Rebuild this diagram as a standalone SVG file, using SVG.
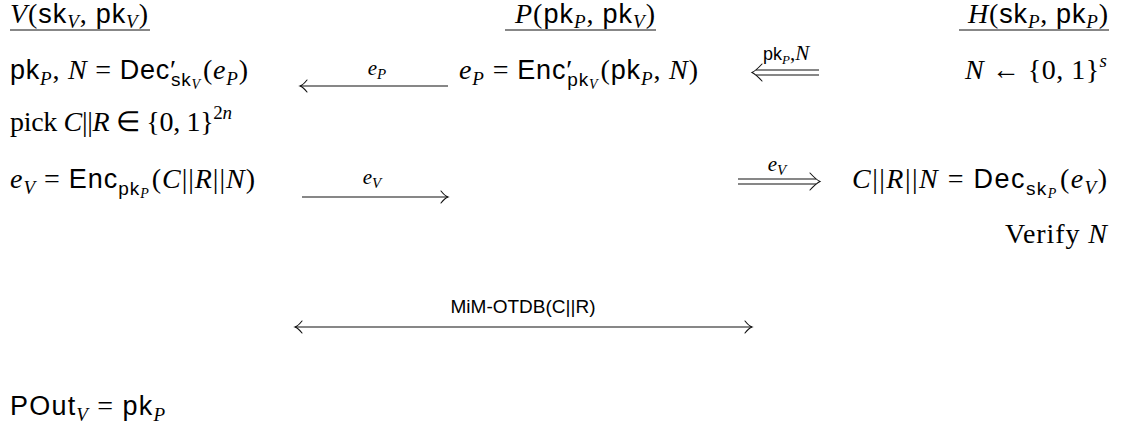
<svg xmlns="http://www.w3.org/2000/svg" width="1124" height="428" viewBox="0 0 1124 428">
<style>
text{font-family:"Liberation Serif",serif;font-size:28px;fill:#000}
.i{font-style:italic}
.s{font-family:"Liberation Sans",sans-serif;font-size:27px}
.sb{font-size:19px}
.ssb{font-size:14px}
.lbl{font-size:21px}
.lsub{font-size:15px}
.lbs{font-family:"Liberation Sans",sans-serif;font-size:18px}
.mim{font-family:"Liberation Sans",sans-serif;font-size:19px}
.ln{stroke:#111;stroke-width:1.1;fill:none}
.hd{stroke:#111;stroke-width:1.1;fill:none;stroke-linecap:round}
</style>
<rect width="1124" height="428" fill="#fff"/>
<g id="party-V">
<text x="10" y="23" textLength="138"><tspan class="i">V</tspan>(<tspan class="s">sk</tspan><tspan class="i sb" dy="5">V</tspan><tspan dy="-5">, </tspan><tspan class="s">pk</tspan><tspan class="i sb" dy="5">V</tspan><tspan dy="-5">)</tspan></text>
<line class="ln" x1="10" y1="30" x2="150" y2="30"/>
</g>
<g id="party-P">
<text x="515" y="23" textLength="140"><tspan class="i">P</tspan>(<tspan class="s">pk</tspan><tspan class="i sb" dy="5">P</tspan><tspan dy="-5">, </tspan><tspan class="s">pk</tspan><tspan class="i sb" dy="5">V</tspan><tspan dy="-5">)</tspan></text>
<line class="ln" x1="505" y1="30" x2="656" y2="30"/>
</g>
<g id="party-H">
<text x="968" y="23" textLength="140"><tspan class="i">H</tspan>(<tspan class="s">sk</tspan><tspan class="i sb" dy="5">P</tspan><tspan dy="-5">, </tspan><tspan class="s">pk</tspan><tspan class="i sb" dy="5">P</tspan><tspan dy="-5">)</tspan></text>
<line class="ln" x1="959" y1="30" x2="1109" y2="30"/>
</g>
<g id="v-dec">
<text x="10" y="79" textLength="238"><tspan class="s">pk</tspan><tspan class="i sb" dy="6">P</tspan><tspan dy="-6">, </tspan><tspan class="i">N</tspan> = <tspan class="s">Dec</tspan><tspan>′</tspan><tspan class="s sb" dx="-6" dy="7">sk</tspan><tspan class="i ssb" dy="3">V</tspan><tspan dy="-10" dx="2">(</tspan><tspan class="i">e</tspan><tspan class="i sb" dy="6">P</tspan><tspan dy="-6">)</tspan></text>
</g>
<g id="p-enc">
<text x="459" y="79" textLength="239"><tspan class="i">e</tspan><tspan class="i sb" dy="6">P</tspan><tspan dy="-6"> = </tspan><tspan class="s">Enc</tspan><tspan>′</tspan><tspan class="s sb" dx="-6" dy="7">pk</tspan><tspan class="i ssb" dy="3">V</tspan><tspan dy="-10" dx="2">(</tspan><tspan class="s">pk</tspan><tspan class="i sb" dy="6">P</tspan><tspan dy="-6">, </tspan><tspan class="i">N</tspan>)</text>
</g>
<g id="h-nonce">
<text x="965" y="79" textLength="142"><tspan class="i">N</tspan> ← {0, 1}<tspan class="i sb" dy="-12">s</tspan></text>
</g>
<g id="v-pick">
<text x="10" y="131" textLength="222">pick <tspan class="i">C</tspan>||<tspan class="i">R</tspan> ∈ {0, 1}<tspan class="sb" dy="-12">2<tspan class="i">n</tspan></tspan></text>
</g>
<g id="v-enc">
<text x="10" y="188" textLength="245"><tspan class="i">e</tspan><tspan class="i sb" dy="6">V</tspan><tspan dy="-6"> = </tspan><tspan class="s">Enc</tspan><tspan class="s sb" dy="7">pk</tspan><tspan class="i ssb" dy="3">P</tspan><tspan dy="-10" dx="2">(</tspan><tspan class="i">C</tspan>||<tspan class="i">R</tspan>||<tspan class="i">N</tspan>)</text>
</g>
<g id="h-dec">
<text x="852" y="188" textLength="255"><tspan class="i">C</tspan>||<tspan class="i">R</tspan>||<tspan class="i">N</tspan> = <tspan class="s">Dec</tspan><tspan class="s sb" dy="7">sk</tspan><tspan class="i ssb" dy="3">P</tspan><tspan dy="-10" dx="2">(</tspan><tspan class="i">e</tspan><tspan class="i sb" dy="6">V</tspan><tspan dy="-6">)</tspan></text>
</g>
<g id="h-verify">
<text x="1005" y="243" textLength="102">Verify <tspan class="i">N</tspan></text>
</g>
<g id="v-out">
<text x="10" y="415" textLength="155"><tspan class="s">POut</tspan><tspan class="i sb" dy="6">V</tspan><tspan dy="-6"> = </tspan><tspan class="s">pk</tspan><tspan class="i sb" dy="6">P</tspan></text>
</g>
<g id="connectors">
<line class="ln" x1="300" y1="86" x2="448" y2="86"/>
<path class="hd" d="M307,80 Q303,85 300,86 Q303,87 307,92"/>
<text class="lbl i" x="377" y="75" text-anchor="middle">e<tspan class="lsub" dy="4">P</tspan></text>
<line class="ln" x1="756" y1="70" x2="819" y2="70"/>
<line class="ln" x1="756" y1="75" x2="819" y2="75"/>
<path class="hd" d="M762,64 Q756,70.5 752,72.5 Q756,74.5 762,81"/>
<text x="763" y="60"><tspan class="lbs">pk</tspan><tspan class="i" style="font-size:13px" dy="4">P</tspan><tspan class="lbl" dy="-4">,</tspan><tspan class="lbl i">N</tspan></text>
<line class="ln" x1="302" y1="197" x2="448" y2="197"/>
<path class="hd" d="M441,191 Q445,196 448,197 Q445,198 441,203"/>
<text class="lbl i" x="372" y="184" text-anchor="middle">e<tspan class="lsub" dy="4">V</tspan></text>
<line class="ln" x1="738" y1="179" x2="816" y2="179"/>
<line class="ln" x1="738" y1="184" x2="816" y2="184"/>
<path class="hd" d="M810,173 Q816,179.5 820,181.5 Q816,183.5 810,190"/>
<text class="lbl i" x="777" y="171" text-anchor="middle">e<tspan class="lsub" dy="4">V</tspan></text>
<line class="ln" x1="295" y1="327" x2="752" y2="327"/>
<path class="hd" d="M302,321 Q298,326 295,327 Q298,328 302,333"/>
<path class="hd" d="M745,321 Q749,326 752,327 Q749,328 745,333"/>
<text class="mim" x="523" y="313" text-anchor="middle">MiM-OTDB(C||R)</text>
</g>
</svg>
